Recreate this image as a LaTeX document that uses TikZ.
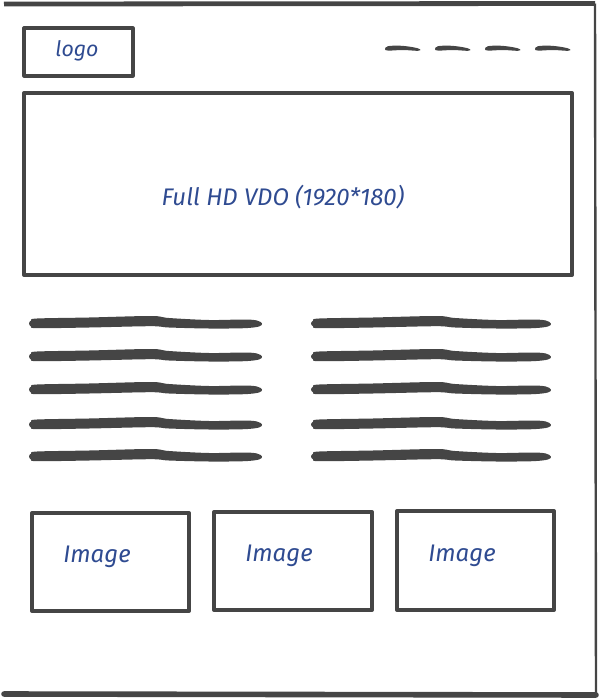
\documentclass[tikz,border=0pt]{standalone}
\usepackage{fontspec}
\setmainfont{Fira Sans}
\definecolor{ink}{RGB}{69,69,69}
\definecolor{pen}{RGB}{47,75,145}
\tikzset{
  frame/.style={draw=ink, line width=3pt, line join=round},
  thinframe/.style={draw=ink, line width=2.4pt, line join=round},
  hand/.style={text=pen, font=\itshape\fontsize{18}{21}\selectfont, inner sep=0pt},
  brush/.pic={\fill[ink] plot[smooth cycle, tension=0.55] coordinates
     {(0,0.5) (2,-2.5) (8,-4.5) (60,-5.5) (122,-7) (140,-5) (180,-3) (215,-3.5) (228,-2.5) (233,0.5) (230,3.5)
      (215,5.2) (180,5.5) (140,4.5) (122,3.2) (60,4.5) (8,5.2) (2,3.5)};},
  dashstroke/.pic={\fill[ink] plot[smooth cycle, tension=0.6] coordinates
     {(0,1) (3,-1.8) (15,-2.3) (28,-0.8) (35,1.2) (33,2.8) (18,2) (3,2.6)};}
}
\begin{document}
\begin{tikzpicture}[x=0.75pt,y=-0.75pt]
\useasboundingbox (0,0) rectangle (601,700);
% outer frame
\draw[frame, line width=3.6pt] (4,4) -- (595,3.5);
\draw[frame, line width=1.8pt] (595,3.5) -- (596,695);
\draw[frame, line width=4.2pt] (596,695) -- (4,694) -- cycle;
% logo
\draw[thinframe] (24,28) rectangle (133,76);
\node[hand, font=\itshape\fontsize{16}{19}\selectfont] (logo) at (77,51) {logo};
% menu dashes
\foreach \x in {385,435,485,535} \pic at (\x,48) {dashstroke};
% video
\draw[frame] (24,93) rectangle (572,275);
\node[hand] (video) at (283,197) {Full HD VDO (1920*180)};
% text lines
\foreach \y in {323,356,389,424,456} {
  \pic at (29,\y) {brush};
  \pic[xscale=1.03] at (311,\y) {brush};
}
% images
\draw[frame] (32,513) rectangle (189,611);
\draw[frame] (214,512) rectangle (372,610);
\draw[frame] (397,511) rectangle (554,610);
\node[hand] (img1) at (97,557) {Image};
\node[hand] (img2) at (279,556) {Image};
\node[hand] (img3) at (462,556) {Image};
\end{tikzpicture}
\end{document}
